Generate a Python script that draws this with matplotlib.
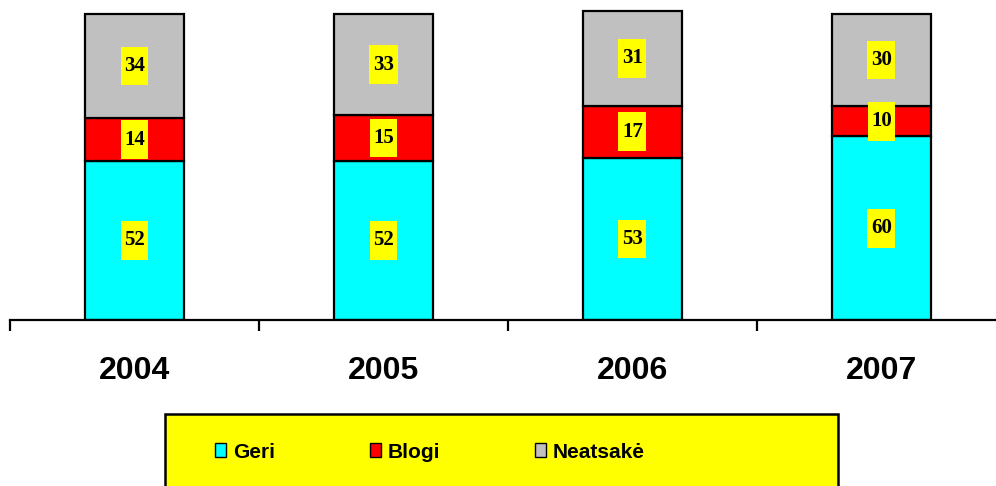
import matplotlib
matplotlib.use("Agg")
import matplotlib.pyplot as plt
import numpy as np
from matplotlib.patches import Rectangle
from matplotlib.path import Path

years = ["2004", "2005", "2006", "2007"]
series_names = ["Geri", "Blogi", "Neatsakė"]
geri = [52, 52, 53, 60]
blogi = [14, 15, 17, 10]
neatsake = [34, 33, 31, 30]
colors = ["#00FFFF", "#FF0000", "#C0C0C0"]

W, H = 996, 486
fig = plt.figure(figsize=(W / 100, H / 100), dpi=100)
fig.patch.set_facecolor("white")

ax = fig.add_axes([10 / W, (H - 320) / H, 1 - 10 / W, 320 / H])
ax.set_xlim(-0.5, 3.46)
ax.set_ylim(0, 104.6)


class LabelBox:
    def __call__(self, x0, y0, width, height, mutation_size):
        px = 0.17 * mutation_size
        py = 0.45 * mutation_size
        x0 -= px
        y0 -= py
        x1 = x0 + width + 2 * px
        y1 = y0 + height + 2 * py
        return Path([(x0, y0), (x1, y0), (x1, y1), (x0, y1), (x0, y0)],
                    [Path.MOVETO, Path.LINETO, Path.LINETO, Path.LINETO, Path.CLOSEPOLY])


x = np.arange(len(years))
bottom = np.zeros(len(years))
handles = []
for name, vals, col in zip(series_names, [geri, blogi, neatsake], colors):
    vals = np.array(vals, dtype=float)
    b = ax.bar(x, vals, width=0.40, bottom=bottom, color=col,
               edgecolor="black", linewidth=1.6, label=name, zorder=2)
    handles.append(b)
    for xi, v, bt in zip(x, vals, bottom):
        t = ax.text(xi, bt + v / 2, f"{int(v)}", ha="center", va="center",
                    fontsize=15, fontweight="bold", family="Liberation Serif",
                    color="black", zorder=5,
                    bbox=dict(facecolor="#FFFF00", edgecolor="none"))
        t.get_bbox_patch().set_boxstyle(LabelBox())
    bottom = bottom + vals

for s in ["left", "top", "right"]:
    ax.spines[s].set_visible(False)
ax.spines["bottom"].set_linewidth(1.6)
ax.spines["bottom"].set_color("black")
ax.set_yticks([])
ax.set_xticks(x)
ax.set_xticklabels(years, fontsize=23, fontweight="bold", family="Liberation Sans")
ax.tick_params(axis="x", which="major", length=0, pad=26)
ax.set_xticks(np.arange(-0.5, 3.5, 1.0), minor=True)
ax.tick_params(axis="x", which="minor", length=8, width=1.6, color="black", direction="out")

# legend background box
fig.patches.append(Rectangle((165 / W, -0.05), (838 - 165) / W, (H - 414) / H + 0.05,
                             transform=fig.transFigure, facecolor="#FFFF00",
                             edgecolor="black", linewidth=1.8, zorder=0))

leg = fig.legend(handles=handles, labels=series_names, loc="center left",
                 bbox_to_anchor=(215 / W, 1 - 452 / H), ncol=3, frameon=False,
                 prop=dict(family="Liberation Sans", weight="bold", size=15),
                 handlelength=0.55, handleheight=0.65, handletextpad=0.3,
                 columnspacing=4.55, borderpad=0, borderaxespad=0)
for h in leg.legend_handles:
    h.set_linewidth(1.0)

fig.savefig("out.png", dpi=100)
